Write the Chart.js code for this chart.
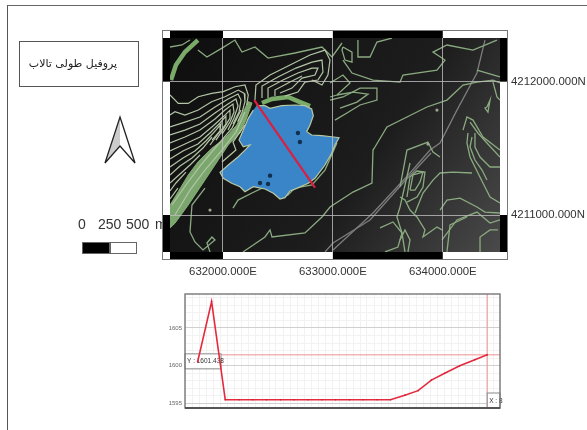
<!DOCTYPE html>
<html>
<head>
<meta charset="utf-8">
<script src="https://cdn.jsdelivr.net/npm/chart.js@4"></script>
<style>
  html, body { margin: 0; background: #fff; overflow: hidden; }
  #page { position: absolute; left: 7px; top: 5px; width: 580px; height: 425px; border-left: 1.5px solid #555; border-top: 1.5px solid #666; }
  #title { position: absolute; left: 19px; top: 41px; width: 106px; height: 44px; padding-right: 12px; border: 1.3px solid #555; font: 11px "DejaVu Sans"; color: #222; line-height: 44px; text-align: center; filter: blur(.35px); }
  #arrow { position: absolute; left: 100px; top: 112px; filter: blur(.3px); }
  .sb { position: absolute; top: 216px; font: 14px "Liberation Sans"; color: #333; filter: blur(.3px); }
  #barBlack { position: absolute; left: 82px; top: 242px; width: 28px; height: 12px; background: #000; border: 1px solid #666; box-sizing: border-box; }
  #barWhite { position: absolute; left: 110px; top: 242px; width: 27px; height: 12px; background: #fff; border: 1px solid #666; box-sizing: border-box; }
  canvas { position: absolute; }
  #mapChart { left: 0; top: 0; filter: blur(.4px); }
  #profileChart { left: 150px; top: 285px; filter: blur(.45px); }
</style>
</head>
<body>
<div id="page"></div>
<div id="title" dir="rtl">پروفیل طولی تالاب</div>
<svg id="arrow" width="40" height="56">
  <path d="M20 5 L20 34 L5 51 Z" fill="#ccc"/>
  <path d="M20 5 L35 51 L20 34 L5 51 Z" fill="none" stroke="#222" stroke-width="1.3"/>
</svg>
<span class="sb" style="left:78px">0</span>
<span class="sb" style="left:98px">250</span>
<span class="sb" style="left:126px">500</span>
<span class="sb" style="left:155px">m</span>
<div id="barBlack"></div>
<div id="barWhite"></div>
<canvas id="mapChart" width="587" height="285"></canvas>
<canvas id="profileChart" width="370" height="145"></canvas>
<script>
// map axes, metres from the 632000E / 4211000N grid corner
const eastOrigin = 632000;
const northOrigin = 4211000;
const eastTicks = [0, 1000, 2000];
const northTicks = [0, 1000];

const lake = [307,820, 382,820, 428,800, 534,820, 655,825, 746,820, 807,795, 822,745, 792,675, 762,625, 807,600, 898,595, 989,587, 1056,580, 1019,525, 989,463, 928,375, 837,275, 776,238, 671,200, 610,180, 564,130, 519,120, 458,163, 382,195, 276,212, 200,175, 155,212, 79,238, 3,275, -27,320, 48,375, 139,437, 200,487, 246,525, 185,512, 146,562, 185,637, 230,725, 276,787];
const lakeSpots = [682,615, 700,547, 428,295, 337,240, 410,232];
const profileLine = [285,862, 837,205];
const steepBand = [-482,75, -407,175, -316,300, -225,400, -103,500, 18,575, 125,675, 185,775, 230,850, 264,840, 209,712, 155,615, 48,525, -73,375, -194,225, -316,75, -437,-62, -482,-97];
const thickGreen = [
  [-473,1012, -428,1125, -346,1222, -228,1312],
  [355,840, 446,870, 592,885, 701,847, 792,817]
];
const slopeLines = [
  [-482,900, -407,837, -316,837, -225,887, -103,912, 3,925, 109,962, 200,975, 230,900, 216,825],
  [-482,750, -437,775, -346,750, -225,787, -103,850, 18,887, 139,937, 194,912, 200,850, 176,775, 134,700],
  [-482,660, -346,697, -209,735, -73,810, 46,870, 137,907, 164,862, 146,772, 91,682],
  [-482,600, -346,637, -209,682, -73,765, 46,832, 118,870, 137,817, 100,727, 46,637],
  [-482,540, -346,585, -209,637, -73,720, 18,787, 91,832, 100,772, 64,697, -9,607],
  [-482,480, -346,532, -209,585, -91,667, 9,742, 64,787, 64,727, 9,652, -64,562],
  [-482,420, -364,480, -228,532, -118,615, -27,690, 27,742, 27,682, -46,607, -118,525],
  [-482,360, -364,427, -255,480, -155,555, -64,637, -18,682, -27,630, -100,562],
  [-482,300, -391,367, -282,427, -182,502, -100,585],
  [-482,240, -391,307, -300,375, -209,450],
  [-482,180, -428,240, -337,322],
  [-482,120, -410,202],
  [-9,397, 118,487, 91,547, 200,675],
  [-437,0, -300,187, -164,337, -9,487, 118,622, 200,772],
  [-464,75, -337,225, -209,367, -64,510, 82,652, 164,787],
  [291,862, 300,975, 428,1050, 610,1125, 792,1200, 928,1237, 974,1162, 955,1050, 901,975, 810,1012],
  [355,877, 355,967, 500,1035, 664,1102, 810,1147, 901,1162, 910,1072, 864,1012, 746,997, 682,922, 564,892],
  [410,877, 410,952, 546,1012, 682,1065, 810,1102, 864,1102, 837,1050, 719,1027, 628,952, 519,915],
  [473,892, 473,937, 610,997, 719,1042]
];
const contours = [
  [-482,1260, -373,1275, -300,1312],
  [-228,1237, -146,1185, -9,1252, 109,1312, 173,1222, 291,1260, 410,1177, 655,1215, 901,1260, 992,1185, 1083,1290],
  [1092,1260, 1174,1222, 1174,1147, 1110,1162, 1083,1237, 1092,1260],
  [974,862, 1092,885, 1247,952, 1401,952, 1401,862, 1247,825, 1128,765, 1019,712],
  [1037,900, 1183,922, 1320,907, 1219,847, 1065,802],
  [974,990, 1092,1050, 1156,990, 1037,900, 974,885],
  [1092,1162, 1174,1065, 1365,1012, 1611,997, 1638,1050, 1947,1087, 2020,1162, 1911,1222, 2038,1275, 2275,1237, 2493,1312],
  [1228,1312, 1228,1185, 1338,1185, 1401,1297, 1538,1327],
  [2520,990, 2457,1012, 2311,997, 2184,975, 2038,862, 1856,810, 1674,735, 1492,660, 1383,510, 1365,487, 1356,240, 1183,172, 974,60, 901,-15, 746,-135, 446,-165, 428,-112, 382,-165, 182,-277],
  [2229,615, 2220,540, 2248,435, 2320,315, 2384,210, 2430,135, 2520,90],
  [2266,585, 2248,510, 2293,412, 2357,337, 2402,262],
  [2293,615, 2293,510, 2339,435, 2430,360, 2520,360],
  [2184,637, 2220,735, 2275,712, 2366,585, 2520,487],
  [2248,697, 2320,615, 2402,540, 2520,435],
  [1611,210, 1674,487, 1865,547, 1911,472, 1975,435],
  [1702,187, 1729,300, 1820,322, 1793,247, 1747,187, 1702,187],
  [1674,135, 1702,285, 1765,330, 1838,322, 1820,210, 1765,135, 1674,97],
  [1747,15, 1820,165, 1911,262, 1975,315, 2093,322, 2266,315],
  [1975,37, 2038,112, 2157,127, 2311,60, 2384,22, 2520,15],
  [1993,-187, 2129,-37, 2311,22, 2430,-60, 2520,-37],
  [2339,-277, 2339,-165, 2430,-112, 2502,-112],
  [1611,-187, 1656,-112, 1702,-187, 1683,-277],
  [1611,135, 1656,112, 1702,37, 1765,-15, 1838,-112, 1820,-165, 1947,-90, 1993,-112],
  [1702,390, 1611,60, 1583,-15, 1629,-135, 1656,-277],
  [1429,-97, 1547,-52, 1629,-135, 1592,-240, 1474,-277],
  [2038,-277, 2066,-75, 2220,-15],
  [-164,202, -282,75, -300,-127, -255,-202, -182,-262, -73,-187, -100,-165, -146,-210, -118,-277],
  [91,52, 137,112, 264,165, 355,202, 446,210, 519,127, 592,150, 655,202, 810,225, 928,337, 1037,540],
  [2402,810, 2430,862, 2411,772, 2384,802, 2402,810],
  [2311,1087, 2520,1035],
  [2457,997, 2493,885, 2520,862]
];
const roads = [
  [2384,1312, 2311,1065, 2129,787, 1975,540, 1884,487, 1702,315, 1365,15, 1001,-262],
  [928,-277, 1001,-210, 1338,-37, 1638,240, 1893,465]
];
const mapDots = [-118,37, 1947,787, 1865,532];

// profile
const profileDistance = [0, 40, 79, 118, 158, 197, 237, 276, 316, 355, 394, 434, 473, 513, 551, 592, 630, 668, 706, 749, 792, 827.5];
const profileHeight = [1600.5, 1608.5, 1595.5, 1595.5, 1595.5, 1595.5, 1595.5, 1595.5, 1595.5, 1595.5, 1595.5, 1595.5, 1595.5, 1595.5, 1595.5, 1596.1, 1596.7, 1598.1, 1599, 1600, 1600.8, 1601.44];
const profileXTicks = [0, 100, 200, 300, 400, 500, 600, 700, 800];
const profileYTicks = [1595, 1600, 1605];
const cursorX = 827.5;
const cursorY = 1601.44;

function toPoints(list) {
  const out = [];
  for (let i = 0; i < list.length; i += 2) out.push({ x: list[i], y: list[i + 1] });
  return out;
}

function lineSet(list, color, width, order) {
  return { data: toPoints(list), showLine: true, borderColor: color, borderWidth: width, pointRadius: 0, tension: 0, order: order };
}

const xBounds = [-482, 2520.7];
const yBounds = [-277.5, 1327.5];

const mapFrame = {
  id: "mapFrame",
  beforeDraw(chart) {
    const c = chart.ctx, a = chart.chartArea, sx = chart.scales.x, sy = chart.scales.y;
    const grad = c.createLinearGradient(a.left, a.top, a.right, a.bottom);
    grad.addColorStop(0, "#0e0e0e");
    grad.addColorStop(0.6, "#1d1d1d");
    grad.addColorStop(1, "#4a4a4a");

    // neatline with alternating black and white stripes
    const band = 7.5;
    c.fillStyle = "#fff";
    c.fillRect(a.left - band, a.top - band, a.right - a.left + band * 2, a.bottom - a.top + band * 2);
    c.fillStyle = grad;
    c.fillRect(a.left, a.top, a.right - a.left, a.bottom - a.top);
    c.fillStyle = "#000";
    [[xBounds[0], eastTicks[0]], [eastTicks[1], eastTicks[2]]].forEach(function (r) {
      const x0 = sx.getPixelForValue(r[0]), x1 = sx.getPixelForValue(r[1]);
      c.fillRect(x0, a.top - band, x1 - x0, band);
      c.fillRect(x0, a.bottom, x1 - x0, band);
    });
    [[northTicks[1], yBounds[1]], [yBounds[0], northTicks[0]]].forEach(function (r) {
      const y0 = sy.getPixelForValue(r[1]), y1 = sy.getPixelForValue(r[0]);
      c.fillRect(a.left - band, y0, band, y1 - y0);
      c.fillRect(a.right, y0, band, y1 - y0);
    });
    c.strokeStyle = "#777";
    c.lineWidth = 1;
    c.strokeRect(a.left - band, a.top - band, a.right - a.left + band * 2, a.bottom - a.top + band * 2);
  }
};

const mapSets = [
  lineSet(profileLine, "#dc1f40", 2.2, 0),
  { data: toPoints(lakeSpots), pointRadius: 2.2, pointBackgroundColor: "#12304e", pointBorderWidth: 0, order: 1 },
  Object.assign(lineSet(lake, "#b7c9a2", 1.2, 2), { fill: "shape", backgroundColor: "#3a84c8" }),
  { data: toPoints(mapDots), pointRadius: 1.6, pointBackgroundColor: "#9aa58c", pointBorderWidth: 0, order: 3 },
  Object.assign(lineSet(steepBand, "#86ad76", 1, 8), { fill: "shape", backgroundColor: "#7ba66e" })
];
thickGreen.forEach(function (l) { mapSets.push(lineSet(l, "#7bab69", 4.5, 7)); });
slopeLines.forEach(function (l) { mapSets.push(lineSet(l, "#b2c5a4", 1.2, 5)); });
contours.forEach(function (l) { mapSets.push(lineSet(l, "#8aaa80", 1.3, 5)); });
roads.forEach(function (l) { mapSets.push(lineSet(l, "#7c7c7c", 1.3, 6)); });

new Chart(document.getElementById("mapChart"), {
  type: "scatter",
  data: { datasets: mapSets },
  plugins: [mapFrame],
  options: {
    responsive: false,
    animation: false,
    devicePixelRatio: 1,
    layout: { padding: { left: 170, top: 38, right: 0, bottom: 0 } },
    plugins: { legend: { display: false }, tooltip: { enabled: false } },
    scales: {
      x: {
        type: "linear", min: xBounds[0], max: xBounds[1],
        afterFit(s) { s.height = 33; },
        afterBuildTicks(s) { s.ticks = eastTicks.map(function (v) { return { value: v }; }); },
        border: { display: false },
        grid: { color: "rgba(190,190,190,.8)", lineWidth: 1, drawTicks: false, z: 1 },
        ticks: { padding: 13, maxRotation: 0, color: "#333", font: { family: "Liberation Sans", size: 11.4 },
          callback(v) { return (eastOrigin + v) + ".000E"; } }
      },
      y: {
        type: "linear", position: "right", min: yBounds[0], max: yBounds[1],
        afterFit(s) { s.width = 87; },
        afterBuildTicks(s) { s.ticks = northTicks.map(function (v) { return { value: v }; }); },
        border: { display: false },
        grid: { color: "rgba(190,190,190,.8)", lineWidth: 1, drawTicks: false, z: 1 },
        ticks: { padding: 11, color: "#333", font: { family: "Liberation Sans", size: 11.4 },
          callback(v) { return (northOrigin + v) + ".000N"; } }
      }
    }
  }
});

const profileOverlay = {
  id: "profileOverlay",
  beforeDatasetsDraw(chart) {
    const c = chart.ctx, a = chart.chartArea;
    const px = chart.scales.x.getPixelForValue(cursorX), py = chart.scales.y.getPixelForValue(cursorY);
    c.save();
    c.strokeStyle = "#f09090";
    c.lineWidth = 1;
    c.beginPath();
    c.moveTo(a.left, py); c.lineTo(a.right, py);
    c.moveTo(px, a.top); c.lineTo(px, a.bottom);
    c.stroke();
    c.fillStyle = "#fff";
    c.strokeStyle = "#888";
    c.fillRect(a.left, py - 1, 36, 15);
    c.strokeRect(a.left, py - 1, 36, 15);
    c.fillRect(px, a.bottom - 15, a.right - px, 15);
    c.strokeRect(px, a.bottom - 15, a.right - px, 15);
    c.fillStyle = "#333";
    c.font = "6.5px Liberation Sans";
    c.textBaseline = "middle";
    c.fillText("Y : " + "1601.438", a.left + 2, py + 6.5);
    c.fillText("X : 8", px + 2, a.bottom - 7);
    c.restore();
  },
  afterDraw(chart) {
    const c = chart.ctx, a = chart.chartArea;
    c.save();
    c.strokeStyle = "#777";
    c.lineWidth = 1.4;
    c.strokeRect(a.left, a.top, a.right - a.left, a.bottom - a.top);
    c.strokeStyle = "#555";
    c.lineWidth = 1.8;
    c.beginPath();
    c.moveTo(a.left, a.bottom); c.lineTo(a.right, a.bottom);
    c.stroke();
    c.restore();
  }
};

new Chart(document.getElementById("profileChart"), {
  type: "line",
  data: {
    labels: profileDistance,
    datasets: [{
      data: profileDistance.map(function (d, i) { return { x: d, y: profileHeight[i] }; }),
      borderColor: "#e52a3e", borderWidth: 1.6, pointRadius: 0.8, pointBackgroundColor: "#c2203a", pointBorderWidth: 0, tension: 0
    }]
  },
  plugins: [profileOverlay],
  options: {
    responsive: false,
    animation: false,
    devicePixelRatio: 1,
    layout: { padding: { left: 0, top: 9, right: 20, bottom: 0 } },
    plugins: { legend: { display: false }, tooltip: { enabled: false } },
    scales: {
      x: {
        type: "linear", min: -36, max: 864,
        afterFit(s) { s.height = 22; },
        border: { display: false },
        grid: { drawTicks: false, color(ctx) { return profileXTicks.includes(ctx.tick.value) ? "#d0d0d0" : "#f2f2f2"; } },
        ticks: { stepSize: 20, includeBounds: false, autoSkip: false, maxRotation: 0, padding: 3, color: "#666", font: { family: "Liberation Sans", size: 6 },
          callback(v) { return profileXTicks.includes(v) ? v : ""; } }
      },
      y: {
        type: "linear", min: 1594.4, max: 1609.5,
        afterFit(s) { s.width = 35; },
        border: { display: false },
        grid: { drawTicks: false, color(ctx) { return profileYTicks.includes(ctx.tick.value) ? "#d0d0d0" : "#f2f2f2"; } },
        ticks: { stepSize: 1, includeBounds: false, autoSkip: false, padding: 3, color: "#666", font: { family: "Liberation Sans", size: 6 },
          callback(v) { return profileYTicks.includes(v) ? v : ""; } }
      }
    }
  }
});
</script>
</body>
</html>
